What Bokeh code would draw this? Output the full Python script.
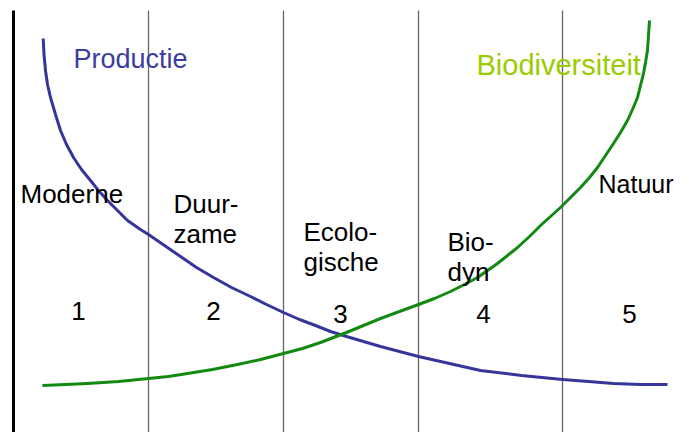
from bokeh.plotting import figure
from bokeh.models import Range1d
from bokeh.core.properties import value
from bokeh.embed import file_html
from bokeh.resources import INLINE

# Stage boundaries (horizontal positions) and vertical extent
boundary_x = [148, 283, 418, 562]
axis_x = 13
line_top = 10
line_bottom = 448

# Productie curve (decreasing)
prod_x = [42.7, 43.5, 45, 47, 50, 55, 60, 66, 73, 81, 90, 98, 107, 117, 127, 140, 148, 164, 180, 196, 213,
          231, 250, 266, 283, 299, 315, 330, 346, 363, 380, 399, 418, 449, 480, 521, 562, 588, 613, 640, 667]
prod_y = [38, 54, 70, 84, 97, 114, 130, 144, 157, 169, 180, 190, 200, 210, 220, 229, 234, 245, 256, 267, 277,
          287, 296, 304, 312, 319, 325, 331, 336, 341, 346, 351, 356, 363, 370, 375, 379, 381, 383, 384, 384]

# Biodiversiteit curve (increasing)
bio_x = [42, 65, 87, 118, 148, 168, 187, 212, 237, 260, 283, 302, 320, 333, 346, 363, 380, 399, 418, 434,
         450, 464, 477, 497, 517, 529, 540, 550, 560, 570, 580, 589, 597, 605, 613, 620, 627, 632, 637, 640,
         643, 645, 647, 648, 649]
bio_y = [385, 384, 383, 381, 378, 376, 373, 369, 364, 359, 353, 348, 342, 337, 332, 325, 318, 311, 304, 298,
         291, 284, 277, 263, 247, 236, 225, 216, 207, 197, 187, 177, 167, 155, 143, 132, 120, 109, 97, 85,
         73, 62, 50, 35, 20]

# Stage labels (line by line)
label_text = ["Moderne", "Duur-", "zame", "Ecolo-", "gische", "Bio-", "dyn", "Natuur"]
label_x = [20, 173, 173, 303, 303, 447, 447, 598]
label_y = [202, 212, 242, 240, 270, 250, 280, 192]

# Stage numbers
num_text = ["1", "2", "3", "4", "5"]
num_x = [78, 213, 340, 483, 629]
num_y = [319, 319, 322, 322, 322]

# Series titles
title_text = ["Productie", "Biodiversiteit"]
title_x = [73, 476]
title_y = [67, 73]
title_color = ["#3c3ca0", "#99cc00"]
title_size = ["27px", "29px"]

FONT = value("Liberation Sans")
DY = -9

p = figure(width=680, height=432, output_backend="svg", toolbar_location=None,
           x_range=Range1d(0, 680), y_range=Range1d(432, 0),
           x_axis_location=None, y_axis_location=None, min_border=0)
p.grid.visible = False
p.outline_line_color = None
p.background_fill_color = "white"

p.segment(x0=boundary_x, y0=[line_top] * len(boundary_x), x1=boundary_x,
          y1=[line_bottom] * len(boundary_x), line_color="#666666", line_width=1.3)
p.segment(x0=[axis_x], y0=[line_top], x1=[axis_x], y1=[line_bottom],
          line_color="black", line_width=3)

p.line(prod_x, prod_y, line_color="#35359a", line_width=3, line_join="round")
p.line(bio_x, bio_y, line_color="#128a12", line_width=3, line_join="round")

p.text(x=label_x[:-1], y=label_y[:-1], text=label_text[:-1], text_font=FONT, text_font_size="26px",
       text_baseline="alphabetic", text_align="left", text_color="black", y_offset=DY)
p.text(x=label_x[-1:], y=label_y[-1:], text=label_text[-1:], text_font=FONT, text_font_size="25px",
       text_baseline="alphabetic", text_align="left", text_color="black", y_offset=DY)
p.text(x=num_x, y=num_y, text=num_text, text_font=FONT, text_font_size="26px",
       text_baseline="alphabetic", text_align="center", text_color="black", y_offset=DY)
p.text(x=title_x, y=title_y, text=title_text, text_font=FONT, text_font_size=title_size,
       text_baseline="alphabetic", text_align="left", text_color=title_color, y_offset=DY)

open("out.html", "w").write(file_html(p, INLINE))
